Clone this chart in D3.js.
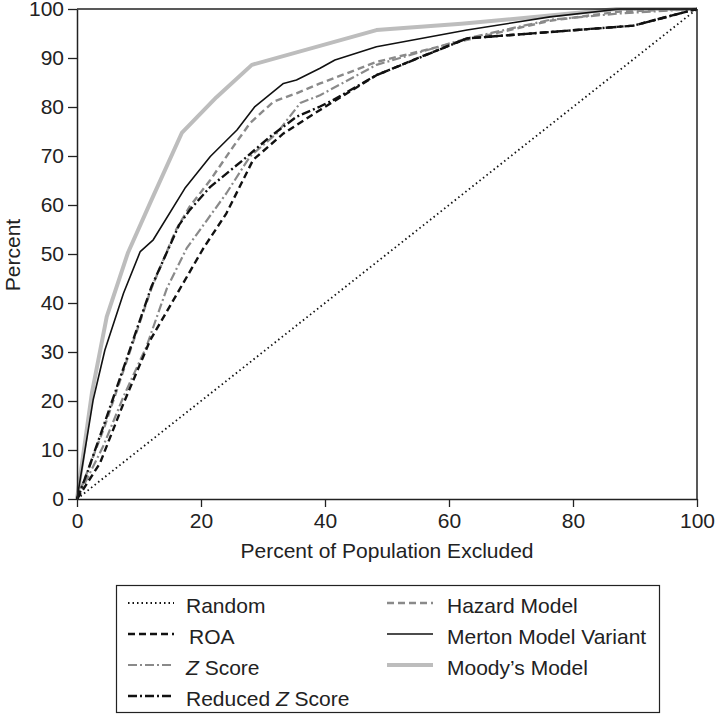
<!DOCTYPE html>
<html>
<head>
<meta charset="utf-8">
<script src="https://cdn.jsdelivr.net/npm/d3@7"></script>
<style>
  body { margin: 0; background: #fff; }
  text { font-family: "Liberation Sans", Arial, sans-serif; }
</style>
</head>
<body>
<script>
// data
var xTicks = [0, 20, 40, 60, 80, 100];
var yTicks = [0, 10, 20, 30, 40, 50, 60, 70, 80, 90, 100];

var randomX = [0, 100];
var randomY = [0, 100];

var roaX = [0, 3.7, 7.5, 11.8, 17.1, 20.4, 24.1, 28.4, 33.3, 39.2, 48.3, 55, 62.9, 76.3, 89.7, 100];
var roaY = [0, 7.3, 19.5, 32.4, 44, 51.2, 58.3, 69.2, 74.6, 79.4, 86.5, 90, 94, 95.3, 96.6, 100];

var zScoreX = [0, 4.2, 7.5, 11.2, 14.5, 17.7, 24.1, 27.9, 32.2, 36, 39.2, 48.3, 62.9, 76.3, 87.6, 100];
var zScoreY = [0, 10.7, 20.9, 31.1, 43, 51.2, 62.4, 69.9, 74.6, 80.8, 82.4, 88.6, 94, 97.8, 99.1, 100];

var redZX = [0, 1.6, 4.8, 8.5, 12, 16.5, 18.2, 21.5, 26.8, 31.1, 35.4, 39.2, 41.3, 48.3, 62.9, 76.3, 89.7, 100];
var redZY = [0, 5.2, 16.8, 30.4, 43.3, 56, 59, 63.7, 69.2, 73.9, 78, 80.1, 81.4, 86.5, 94, 95.3, 96.6, 100];

var hazardX = [0, 4.5, 8.5, 12, 16, 18.2, 21.5, 25.2, 27.9, 31.7, 35.4, 39.2, 48.3, 62.9, 76.3, 87.6, 100];
var hazardY = [0, 15, 30, 43, 55, 59.7, 65.1, 71.9, 76.7, 81.1, 82.8, 84.8, 89.2, 93.7, 97.6, 99.5, 100];

var mertonX = [0, 2.6, 4.5, 7.5, 10.2, 12.3, 17.4, 21.5, 25.8, 28.7, 33.3, 35.4, 39.2, 41.6, 48.3, 62.9, 76.3, 87.6, 100];
var mertonY = [0, 20.2, 30.4, 42, 50.5, 52.9, 63.4, 69.9, 75.3, 80.1, 84.8, 85.5, 87.9, 89.6, 92.3, 95.7, 98.4, 100, 100];

var moodysX = [0, 2.4, 4.8, 8.2, 12, 16.9, 22.5, 28.2, 48.3, 62, 75, 87, 100];
var moodysY = [0, 21.6, 37.2, 50.2, 61, 74.7, 82, 88.6, 95.7, 97, 98.5, 100, 100];

function zip(xs, ys){ return xs.map(function(x, i){ return {x: x, y: ys[i]}; }); }

// series: name, data, stroke style, legend slot
var series = [
  {name: "Random", data: zip(randomX, randomY), color: "#111", width: 1.8, dash: "1.5,3", col: 0, row: 0},
  {name: "ROA", data: zip(roaX, roaY), color: "#111", width: 2.4, dash: "7,4", col: 0, row: 1},
  {name: "Z Score", data: zip(zScoreX, zScoreY), color: "#8a8a8a", width: 2.2, dash: "9,3,2,3", col: 0, row: 2},
  {name: "Reduced Z Score", data: zip(redZX, redZY), color: "#111", width: 2.4, dash: "9,3,2,3", col: 0, row: 3},
  {name: "Hazard Model", data: zip(hazardX, hazardY), color: "#8a8a8a", width: 2.4, dash: "7,4", col: 1, row: 0},
  {name: "Merton Model Variant", data: zip(mertonX, mertonY), color: "#111", width: 1.6, dash: null, col: 1, row: 1},
  {name: "Moody\u2019s Model", data: zip(moodysX, moodysY), color: "#bdbdbd", width: 4, dash: null, col: 1, row: 2}
];

var width = 717, height = 715;
// plot box (don't call it top, window.top is taken)
var mLeft = 77, mRight = 697, mTop = 9, mBottom = 499;
var fontSize = 21;

var svg = d3.select("body").append("svg")
  .attr("width", width).attr("height", height);

var x = d3.scaleLinear().domain([0, 100]).range([mLeft, mRight]);
var y = d3.scaleLinear().domain([0, 100]).range([mBottom, mTop]);

var line = d3.line().x(function(d){ return x(d.x); }).y(function(d){ return y(d.y); });

// curves, Moody's first so the black ones sit on top
var drawOrder = [6, 4, 2, 5, 1, 3, 0];
drawOrder.forEach(function(i){
  var s = series[i];
  svg.append("path")
    .attr("d", line(s.data))
    .attr("fill", "none")
    .attr("stroke", s.color)
    .attr("stroke-width", s.width)
    .attr("stroke-dasharray", s.dash)
    .attr("stroke-linejoin", "round");
});

// frame top and right
svg.append("line").attr("x1", mLeft).attr("x2", mRight).attr("y1", mTop).attr("y2", mTop)
  .attr("stroke", "#222").attr("stroke-width", 1.5);
svg.append("line").attr("x1", mRight).attr("x2", mRight).attr("y1", mTop).attr("y2", mBottom)
  .attr("stroke", "#222").attr("stroke-width", 1.5);

// axes
var xAxis = svg.append("g").attr("transform", "translate(0," + mBottom + ")")
  .call(d3.axisBottom(x).tickValues(xTicks).tickSize(8).tickSizeOuter(0).tickPadding(6));
var yAxis = svg.append("g").attr("transform", "translate(" + mLeft + ",0)")
  .call(d3.axisLeft(y).tickValues(yTicks).tickSize(9).tickSizeOuter(0).tickPadding(4));
[xAxis, yAxis].forEach(function(a){
  a.select(".domain").attr("stroke", "#222").attr("stroke-width", 1.5);
  a.selectAll(".tick line").attr("stroke", "#222").attr("stroke-width", 1.3);
  a.selectAll(".tick text").attr("font-size", fontSize).attr("fill", "#222")
    .attr("font-family", "Liberation Sans, Arial, sans-serif");
});

// axis titles
svg.append("text").text("Percent of Population Excluded")
  .attr("x", (mLeft + mRight) / 2).attr("y", 558)
  .attr("text-anchor", "middle").attr("font-size", fontSize).attr("fill", "#222");
svg.append("text").text("Percent")
  .attr("transform", "translate(20,255) rotate(-90)")
  .attr("text-anchor", "middle").attr("font-size", fontSize).attr("fill", "#222");

// legend
var lg = svg.append("g");
lg.append("rect").attr("x", 116.5).attr("y", 585.5).attr("width", 543).attr("height", 127)
  .attr("fill", "none").attr("stroke", "#222").attr("stroke-width", 1.2);

var colX = [128, 387];
var rowY = [603, 634, 665, 696];

series.forEach(function(s){
  var x0 = colX[s.col], yy = rowY[s.row];
  lg.append("line")
    .attr("x1", x0).attr("x2", x0 + 46).attr("y1", yy).attr("y2", yy)
    .attr("stroke", s.color)
    .attr("stroke-width", s.width)
    .attr("stroke-dasharray", s.dash);
  var t = lg.append("text")
    .attr("x", s.col == 1 ? x0 + 60 : (s.name == "ROA" ? x0 + 61 : x0 + 58))
    .attr("y", yy + 10)
    .attr("font-size", fontSize).attr("fill", "#222");
  if(s.name.indexOf("Z Score") >= 0){
    var pre = s.name.replace("Z Score", "");
    if(pre) t.append("tspan").text(pre);
    t.append("tspan").text("Z").attr("font-style", "italic");
    t.append("tspan").text(" Score");
  } else {
    t.text(s.name);
  }
});
</script>
</body>
</html>
